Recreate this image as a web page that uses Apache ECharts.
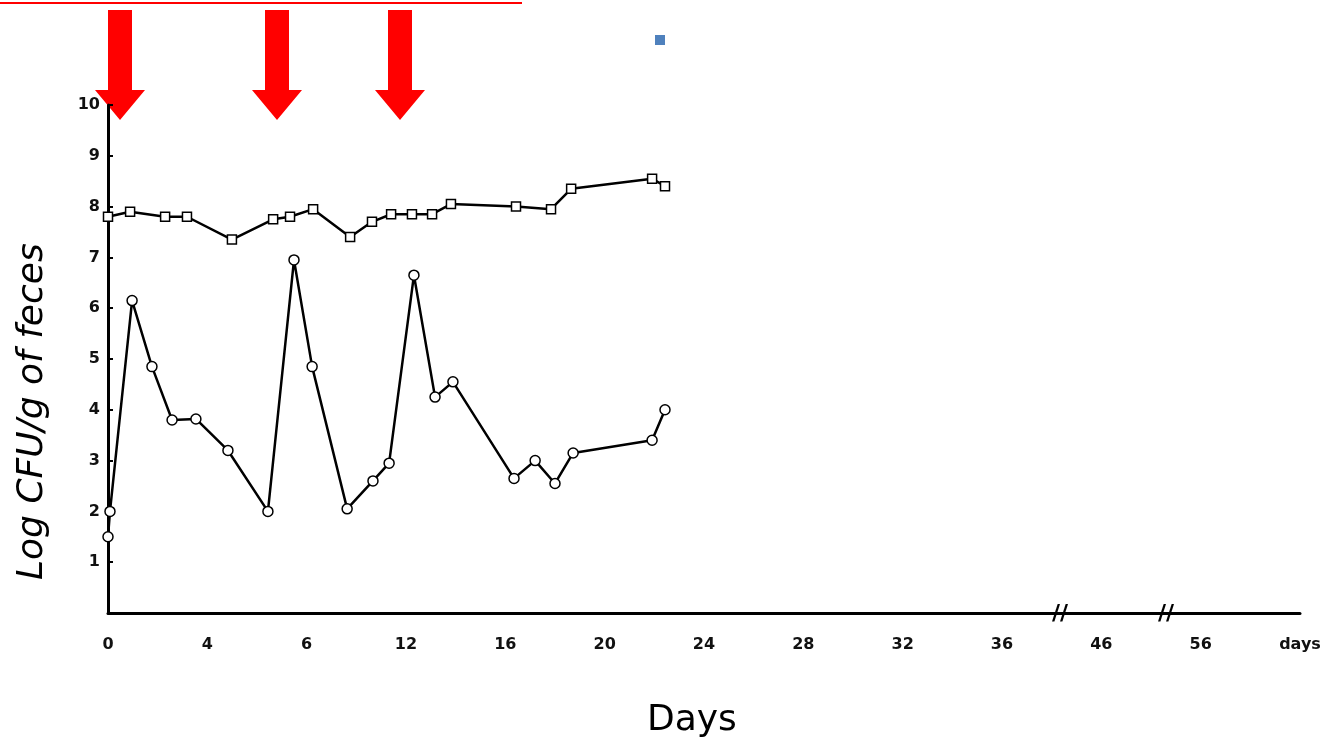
<!DOCTYPE html>
<html><head><meta charset="utf-8">
<script src="https://cdn.jsdelivr.net/npm/echarts@6/dist/echarts.min.js"></script>
<style>html,body{margin:0;background:#fff}#c{width:1334px;height:742px}</style>
</head><body><div id="c"></div>
<script>
// x in axis units (days before break; 40 -> day 46, 44 -> day 56)
const xTickLabels = {0:'0',4:'4',8:'6',12:'12',16:'16',20:'20',24:'24',28:'28',32:'32',36:'36',40:'46',44:'56',48:'days'};
const squareX = [0,0.89,2.3,3.18,4.99,6.65,7.33,8.26,9.75,10.63,11.4,12.24,13.05,13.81,16.43,17.84,18.65,21.91,22.43];
const squareY = [7.8,7.9,7.8,7.8,7.35,7.75,7.8,7.95,7.4,7.7,7.85,7.85,7.85,8.05,8.0,7.95,8.35,8.55,8.4];
const circleX = [0,0.08,0.97,1.77,2.58,3.54,4.83,6.44,7.49,8.22,9.63,10.67,11.32,12.32,13.17,13.89,16.35,17.2,18.0,18.73,21.91,22.43];
const circleY = [1.5,2.0,6.15,4.85,3.8,3.82,3.2,2.0,6.95,4.85,2.05,2.6,2.95,6.65,4.25,4.55,2.65,3.0,2.55,3.15,3.4,4.0];
const sq = squareX.map((x,i)=>[x,squareY[i]]);
const ci = circleX.map((x,i)=>[x,circleY[i]]);
const chart = echarts.init(document.getElementById('c'));
function arrow(cx){return {type:'polygon',shape:{points:[[cx-12,10],[cx+12,10],[cx+12,90],[cx+25,90],[cx,120],[cx-25,90],[cx-12,90]]},style:{fill:'#ff0000'}};}
chart.setOption({
  animation:false,
  grid:{left:108,right:34,top:105,bottom:129},
  xAxis:{type:'value',min:0,max:48,interval:4,
    axisLine:{lineStyle:{color:'#000',width:3}},axisTick:{show:false},splitLine:{show:false},
    axisLabel:{formatter:v=>xTickLabels[v]||'',fontFamily:'DejaVu Sans',fontWeight:'bold',fontSize:16,color:'#111',margin:24}},
  yAxis:{type:'value',min:0,max:10,interval:1,
    axisLine:{show:true,lineStyle:{color:'#000',width:3}},axisTick:{show:true,inside:true,length:5,lineStyle:{width:2}},splitLine:{show:false},
    axisLabel:{formatter:v=>v===0?'':String(v),fontFamily:'DejaVu Sans',fontWeight:'bold',fontSize:16,color:'#111',margin:8}},
  series:[
    {type:'line',data:sq,symbol:'rect',symbolSize:9,itemStyle:{color:'#fff',borderColor:'#000',borderWidth:1.5},lineStyle:{color:'#000',width:2.5}},
    {type:'line',data:ci,symbol:'circle',symbolSize:10,itemStyle:{color:'#fff',borderColor:'#000',borderWidth:1.5},lineStyle:{color:'#000',width:2.5}}
  ],
  graphic:[
    {type:'line',shape:{x1:0,y1:3,x2:522,y2:3},style:{stroke:'#ff0000',lineWidth:2}},
    arrow(120),arrow(277),arrow(400),
    {type:'rect',shape:{x:655,y:35,width:10,height:10},style:{fill:'#4f81bd'}},
    {type:'text',x:1052,y:603,style:{text:'//',font:'bold 22px DejaVu Sans',fill:'#000'}},
    {type:'text',x:1158,y:603,style:{text:'//',font:'bold 22px DejaVu Sans',fill:'#000'}},
    {type:'text',x:647,y:703,style:{text:'Days',font:'36px "DejaVu Sans"',fill:'#000'}},
    {type:'text',x:15,y:580,rotation:Math.PI/2,style:{text:'Log CFU/g of feces',font:'italic 36px "DejaVu Sans"',fill:'#000'}}
  ]
});
</script></body></html>
